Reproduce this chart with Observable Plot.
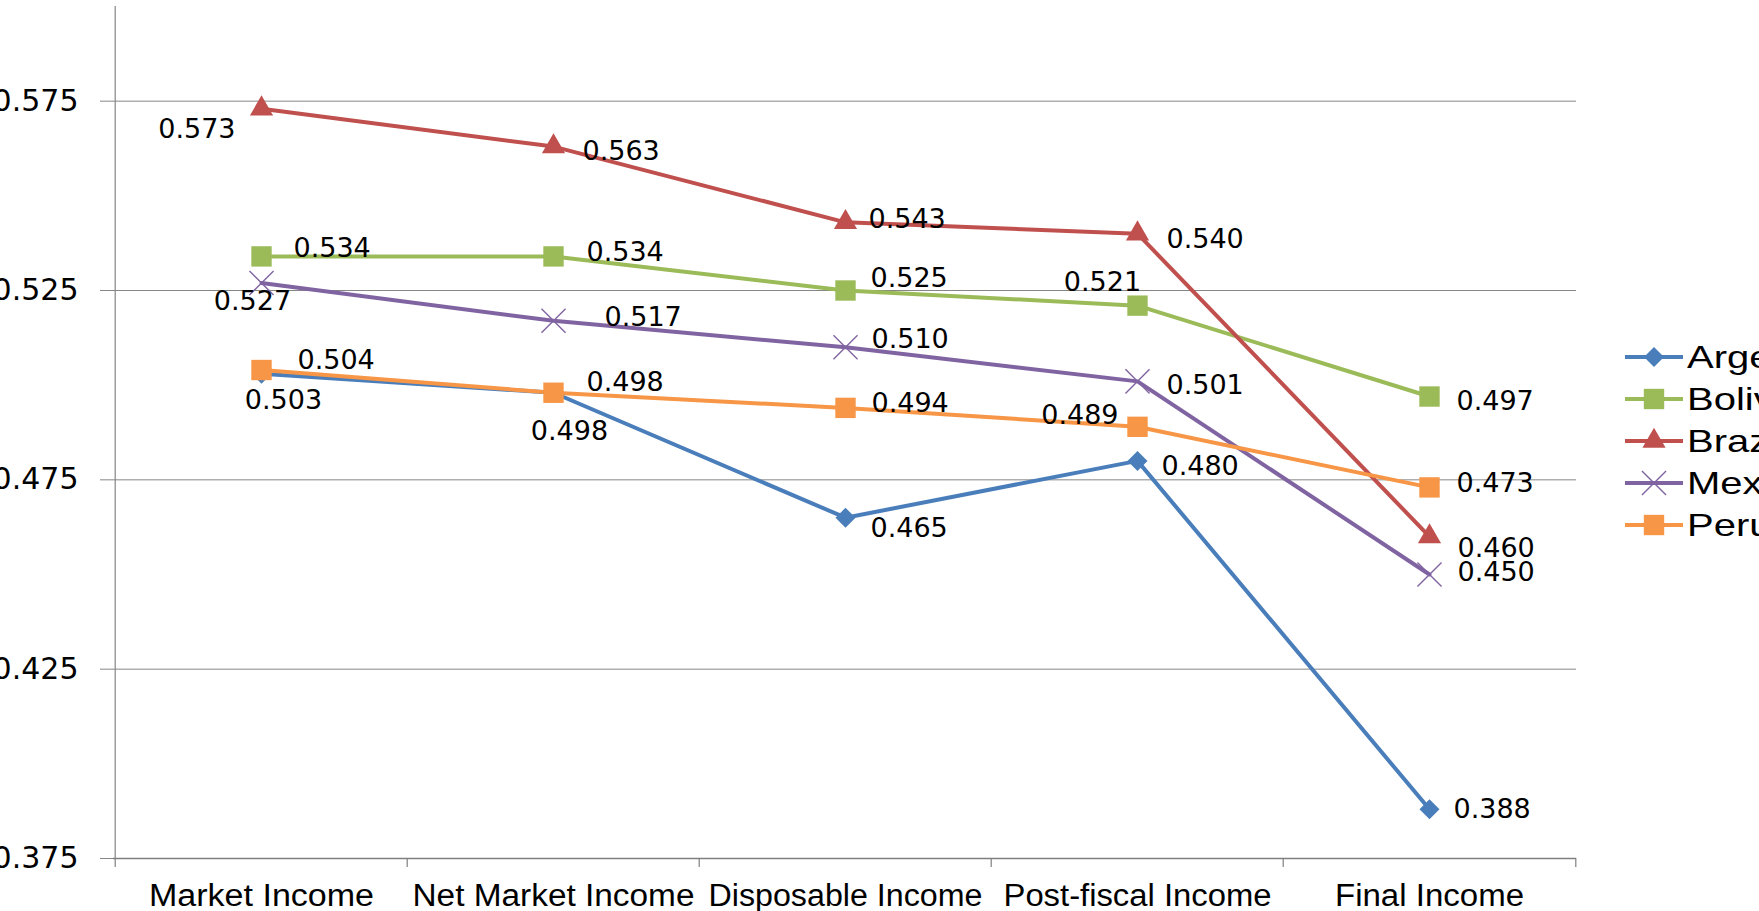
<!DOCTYPE html>
<html>
<head>
<meta charset="utf-8">
<script src="https://cdn.jsdelivr.net/npm/d3@7"></script>
<script src="https://cdn.jsdelivr.net/npm/@observablehq/plot@0.6"></script>
<style>
html, body { margin: 0; padding: 0; background: #fff; overflow: hidden; width: 1759px; height: 911px; }
#wrap { position: relative; width: 1759px; height: 911px; overflow: hidden; }
#chart svg { display: block; }
#chart g[aria-label^="y-axis"] text { font-family: "DejaVu Sans", Verdana, sans-serif; font-size: 30px; fill: #000; }
#chart g[aria-label^="y-axis"] path, #chart g[aria-label^="y-axis"] line { stroke: #868686; }
#chart g[aria-label^="x-axis"] text { font-family: "Liberation Sans", Arial, sans-serif; font-size: 31px; fill: #000; }
#legend { position: absolute; left: 1625px; top: 336px; font-family: "Liberation Sans", Arial, sans-serif; font-size: 32px; color: #000; }
#legend .row { position: absolute; left: 0; height: 42px; display: flex; align-items: center; white-space: nowrap; }
#legend .row svg { display: block; }
#legend .row span { display: inline-block; transform: scaleX(1.25); transform-origin: left center; margin-left: 4px; }
</style>
</head>
<body>
<div id="wrap"><div id="chart"></div><div id="legend"></div></div>
<script>
// ---- data ----
const categories = ["Market Income", "Net Market Income", "Disposable Income", "Post-fiscal Income", "Final Income"];
const countries = ["Argentina", "Bolivia", "Brazil", "Mexico", "Peru"];
const argentina = [0.503, 0.498, 0.465, 0.480, 0.388];
const bolivia   = [0.534, 0.534, 0.525, 0.521, 0.497];
const brazil    = [0.573, 0.563, 0.543, 0.540, 0.460];
const mexico    = [0.527, 0.517, 0.510, 0.501, 0.450];
const peru      = [0.504, 0.498, 0.494, 0.489, 0.473];
const yTicks = [0.375, 0.425, 0.475, 0.525, 0.575];
const yDomain = [0.375, 0.6];

const seriesValues = {Argentina: argentina, Bolivia: bolivia, Brazil: brazil, Mexico: mexico, Peru: peru};

// ---- styles ----
const seriesStyle = {
  Argentina: {color: "#4A7EBB", symbol: "diamond2", r: 9,    filled: true},
  Bolivia:   {color: "#9BBB59", symbol: "square",   r: 11.5, filled: true},
  Brazil:    {color: "#C0504D", symbol: "triangle", r: 8.6,  filled: true},
  Mexico:    {color: "#8064A2", symbol: "times",    r: 11,   filled: false},
  Peru:      {color: "#F79646", symbol: "square",   r: 11.5, filled: true}
};
// [textAnchor, dx, dy] for each value label
const labelPlacement = {
  Argentina: [["middle", 22, 27], ["middle", 16, 39], ["start", 25, 11], ["start", 24, 5], ["start", 24, 0]],
  Bolivia:   [["start", 32, -8], ["start", 33, -4], ["start", 25, -12], ["middle", -35, -23], ["start", 27, 5]],
  Brazil:    [["end", -26, 21], ["start", 29, 5], ["start", 23, -3], ["start", 29, 6], ["start", 28, 12]],
  Mexico:    [["middle", -9, 18], ["start", 51, -3], ["start", 26, -8], ["start", 29, 4], ["start", 28, -2]],
  Peru:      [["start", 36, -10], ["start", 33, -10], ["start", 26, -5], ["end", -19, -11], ["start", 27, -4]]
};
const xLabelWidths = [225, 282, 274, 268, 189];

const W = 1759, H = 911, mL = 113, mR = 183, mT = 6, mB = 53;
const bw = (W - mL - mR) / categories.length;

const marks = [];
// gridlines
marks.push(Plot.ruleY(yTicks.slice(1), {stroke: "#868686", strokeWidth: 1}));
// left axis line
marks.push(Plot.ruleX([categories[0]], {dx: -bw / 2, stroke: "#868686", strokeWidth: 1.2}));
// bottom axis line
marks.push(Plot.ruleY([yDomain[0]], {stroke: "#7f7f7f", strokeWidth: 1.6}));
// category boundary ticks
marks.push(Plot.ruleX(categories, {dx: -bw / 2, insetTop: H - mT - mB, insetBottom: -9, stroke: "#7f7f7f", strokeWidth: 1.2}));
marks.push(Plot.ruleX([categories[categories.length - 1]], {dx: bw / 2, insetTop: H - mT - mB, insetBottom: -9, stroke: "#7f7f7f", strokeWidth: 1.2}));

countries.forEach(c => {
  const st = seriesStyle[c];
  const data = categories.map((cat, i) => ({cat, v: seriesValues[c][i]}));
  marks.push(Plot.line(data, {x: "cat", y: "v", stroke: st.color, strokeWidth: 4}));
  marks.push(Plot.dot(data, {
    x: "cat", y: "v", symbol: st.symbol, r: st.r,
    fill: st.filled ? st.color : "none",
    stroke: st.filled ? "none" : st.color,
    strokeWidth: st.filled ? 0 : 1.4
  }));
});

countries.forEach(c => {
  categories.forEach((cat, i) => {
    const [anchor, dx, dy] = labelPlacement[c][i];
    marks.push(Plot.text([{cat, v: seriesValues[c][i]}], {
      x: "cat", y: "v", text: d => d.v.toFixed(3),
      textAnchor: anchor, dx, dy,
      fontSize: 27, fontFamily: "DejaVu Sans, Verdana, sans-serif", fill: "#000"
    }));
  });
});

const chart = Plot.plot({
  width: W, height: H,
  marginLeft: mL, marginRight: mR, marginTop: mT, marginBottom: mB,
  x: {type: "band", domain: categories, padding: 0, tickSize: 0, tickPadding: 25, label: null},
  y: {domain: yDomain, ticks: yTicks, tickSize: 13, tickPadding: 22, tickFormat: d3.format(".3f"), label: null},
  marks
});
document.getElementById("chart").appendChild(chart);

// stretch x labels to the reference widths
d3.select(chart).selectAll('g[aria-label^="x-axis"] text').each(function(d, i) {
  if (xLabelWidths[i] != null) {
    d3.select(this).attr("textLength", xLabelWidths[i]).attr("lengthAdjust", "spacingAndGlyphs");
  }
});

// ---- legend ----
const symbolMap = {diamond2: d3.symbolDiamond2, square: d3.symbolSquare, triangle: d3.symbolTriangle, times: d3.symbolTimes};
const legend = d3.select("#legend");
countries.forEach((c, i) => {
  const st = seriesStyle[c];
  const row = legend.append("div").attr("class", "row").style("top", (i * 42) + "px");
  const svg = row.append("svg").attr("width", 58).attr("height", 30);
  svg.append("line").attr("x1", 0).attr("x2", 58).attr("y1", 15).attr("y2", 15)
    .attr("stroke", st.color).attr("stroke-width", 4);
  svg.append("path").attr("transform", "translate(29,15)")
    .attr("d", d3.symbol(symbolMap[st.symbol], Math.PI * st.r * st.r)())
    .attr("fill", st.filled ? st.color : "none")
    .attr("stroke", st.filled ? "none" : st.color)
    .attr("stroke-width", 1.4);
  row.append("span").text(c);
});
</script>
</body>
</html>
